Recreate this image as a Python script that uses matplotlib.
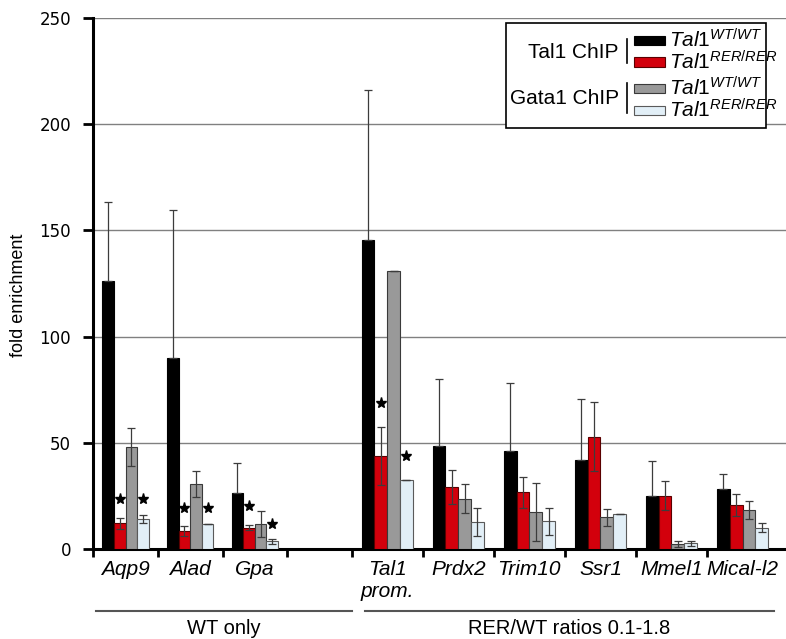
import numpy as np
import matplotlib
matplotlib.use('Agg')
from matplotlib import pyplot as plt
from matplotlib.patches import Rectangle
from matplotlib.lines import Line2D

plt.rcParams['mathtext.fontset'] = 'custom'
plt.rcParams['mathtext.it'] = 'Liberation Sans:italic'
plt.rcParams['mathtext.rm'] = 'Liberation Sans'

nan = np.nan

# loci on the x axis (empty slot separates the two groups)
categories = ['Aqp9', 'Alad', 'Gpa', '', 'Tal1\nprom.', 'Prdx2', 'Trim10', 'Ssr1', 'Mmel1', 'Mical-l2']

# fold enrichment
tal1_wt = [126.3, 90.0, 26.4, nan, 145.5, 48.4, 45.9, 41.8, 24.8, 28.3]
tal1_wt_err = [37.2, 69.6, 13.8, nan, 70.8, 31.4, 32.3, 28.6, 16.7, 7.0]
tal1_rer = [12.0, 8.3, 9.9, nan, 43.8, 29.2, 26.7, 52.8, 25.0, 20.7]
tal1_rer_err = [2.6, 2.4, 1.2, nan, 13.7, 8.0, 7.3, 16.4, 6.7, 5.2]
gata1_wt = [48.1, 30.5, 11.5, nan, 130.9, 23.6, 17.4, 14.8, 2.2, 18.4]
gata1_wt_err = [9.0, 6.0, 6.2, nan, 0.0, 6.8, 13.7, 4.0, 1.2, 4.3]
gata1_rer = [13.9, 11.6, 3.6, nan, 32.4, 12.4, 12.9, 16.2, 2.5, 9.9]
gata1_rer_err = [2.0, 0.0, 1.2, nan, 0.0, 6.6, 6.3, 0.0, 1.2, 2.0]

# significance stars: (category index, series index, height)
stars = [(0, 1, 23.3), (0, 3, 23.3), (1, 1, 19.2), (1, 3, 19.2),
         (2, 1, 20.1), (2, 3, 11.5), (4, 1, 68.8), (4, 3, 43.7)]

groups = [('WT only', 0, 3), ('RER/WT ratios 0.1-1.8', 4, 9)]

yticks = [0, 50, 100, 150, 200, 250]

# the right-hand panel is slightly wider in the original
slot_w = np.array([1.0] * 4 + [1.1] * 6)
bounds = np.concatenate([[0], np.cumsum(slot_w)])
centers = bounds[:-1] + slot_w / 2

series = [tal1_wt, tal1_rer, gata1_wt, gata1_rer]
errs = [tal1_wt_err, tal1_rer_err, gata1_wt_err, gata1_rer_err]
colors = ['#000000', '#d3000c', '#999999', '#e2eff7']
edges = ['#000000', '#5a0000', '#3a3a3a', '#5a5a5a']

W, H = 786, 639
fig = plt.figure(figsize=(W / 100, H / 100), dpi=100)
ax = fig.add_axes([93.3 / W, 1 - 548.7 / H, 1 - 93.3 / W, (548.7 - 18.3) / H])

frac = 0.18
for k, (vals, err) in enumerate(zip(series, errs)):
    x = centers + (k - 1.5) * frac * slot_w
    vals = np.array(vals)
    err = np.array(err)
    ax.bar(x, vals, width=frac * slot_w, color=colors[k], edgecolor=edges[k],
           linewidth=0.8, zorder=3)
    if k == 0:
        yerr = [np.zeros_like(err), err]  # lower half hidden in black bar
    else:
        yerr = err
    ax.errorbar(x, vals, yerr=yerr, fmt='none', ecolor='#3c3c3c', elinewidth=0.9,
                capsize=2.8, capthick=0.9, zorder=4)

for ci, si, yv in stars:
    xs = centers[ci] + (si - 1.5) * frac * slot_w[ci]
    ax.plot(xs, yv, marker='*', color='black', markersize=8, zorder=5)

ax.set_xlim(0, 692.7 / 64.6)
ax.set_ylim(0, 250)
ax.set_yticks(yticks)
ax.yaxis.grid(True, color='#808080', linewidth=1.0, zorder=0)
ax.set_axisbelow(True)

ax.set_xticks(bounds[:-1])
ax.set_xticklabels([])
ax.set_xticks(centers, minor=True)
ax.set_xticklabels(categories, minor=True, fontstyle='italic',
                   family='Liberation Sans', fontsize=15)
ax.tick_params(axis='x', which='minor', length=0, pad=8)
ax.tick_params(axis='x', which='major', length=6, width=2, direction='out')
ax.tick_params(axis='y', length=7, width=2, labelsize=12, pad=9)

for s in ['top', 'right']:
    ax.spines[s].set_visible(False)
ax.spines['left'].set_linewidth(2.2)
ax.spines['bottom'].set_linewidth(2.2)

# group brackets under the axis
def fx(px):
    return px / W

def fy(py):
    return 1 - py / H

fig.text(fx(19), fy(295), 'fold enrichment', rotation=90, ha='center', va='center',
         family='Liberation Sans', fontsize=13)

x0 = ax.get_position().x0
xscale = ax.get_position().width / (692.7 / 64.6)
insets = [(0.04, 0.0), (0.2, -0.06)]
for (name, a, b), (il, ir) in zip(groups, insets):
    left = x0 + (bounds[a] + il) * xscale
    right = x0 + (bounds[b + 1] + ir) * xscale
    fig.add_artist(Line2D([left, right], [fy(610.7)] * 2, color='#555555', linewidth=1.5))
    fig.text((left + right) / 2, fy(629), name, ha='center', va='center',
             family='Liberation Sans', fontsize=14.5)

# legend drawn by hand to match the bracketed layout
fig.add_artist(Rectangle((fx(506), fy(128)), fx(766) - fx(506), fy(23) - fy(128),
                         facecolor='white', edgecolor='black', linewidth=1.2, zorder=10))
leg_rows = [(40, 0), (62, 1), (88, 2), (110, 3)]
labels = [r'$\mathit{Tal1}^{WT/WT}$', r'$\mathit{Tal1}^{RER/RER}$',
          r'$\mathit{Tal1}^{WT/WT}$', r'$\mathit{Tal1}^{RER/RER}$']
for py, k in leg_rows:
    fig.add_artist(Rectangle((fx(634), fy(py + 4.5)), fx(665) - fx(634), fy(py - 4.5) - fy(py + 4.5),
                             facecolor=colors[k], edgecolor=edges[k], linewidth=0.8, zorder=11))
    fig.text(fx(669), fy(py), labels[k], ha='left', va='center', fontsize=15, zorder=11)
for name, py, top, bot in [('Tal1 ChIP', 53, 39, 63), ('Gata1 ChIP', 98, 83, 113)]:
    fig.text(fx(619), fy(py), name, ha='right', va='center', family='Liberation Sans',
             fontsize=15, zorder=11)
    fig.add_artist(Line2D([fx(627)] * 2, [fy(top), fy(bot)], color='black', linewidth=1.2, zorder=11))

fig.savefig('out.png', dpi=100)
